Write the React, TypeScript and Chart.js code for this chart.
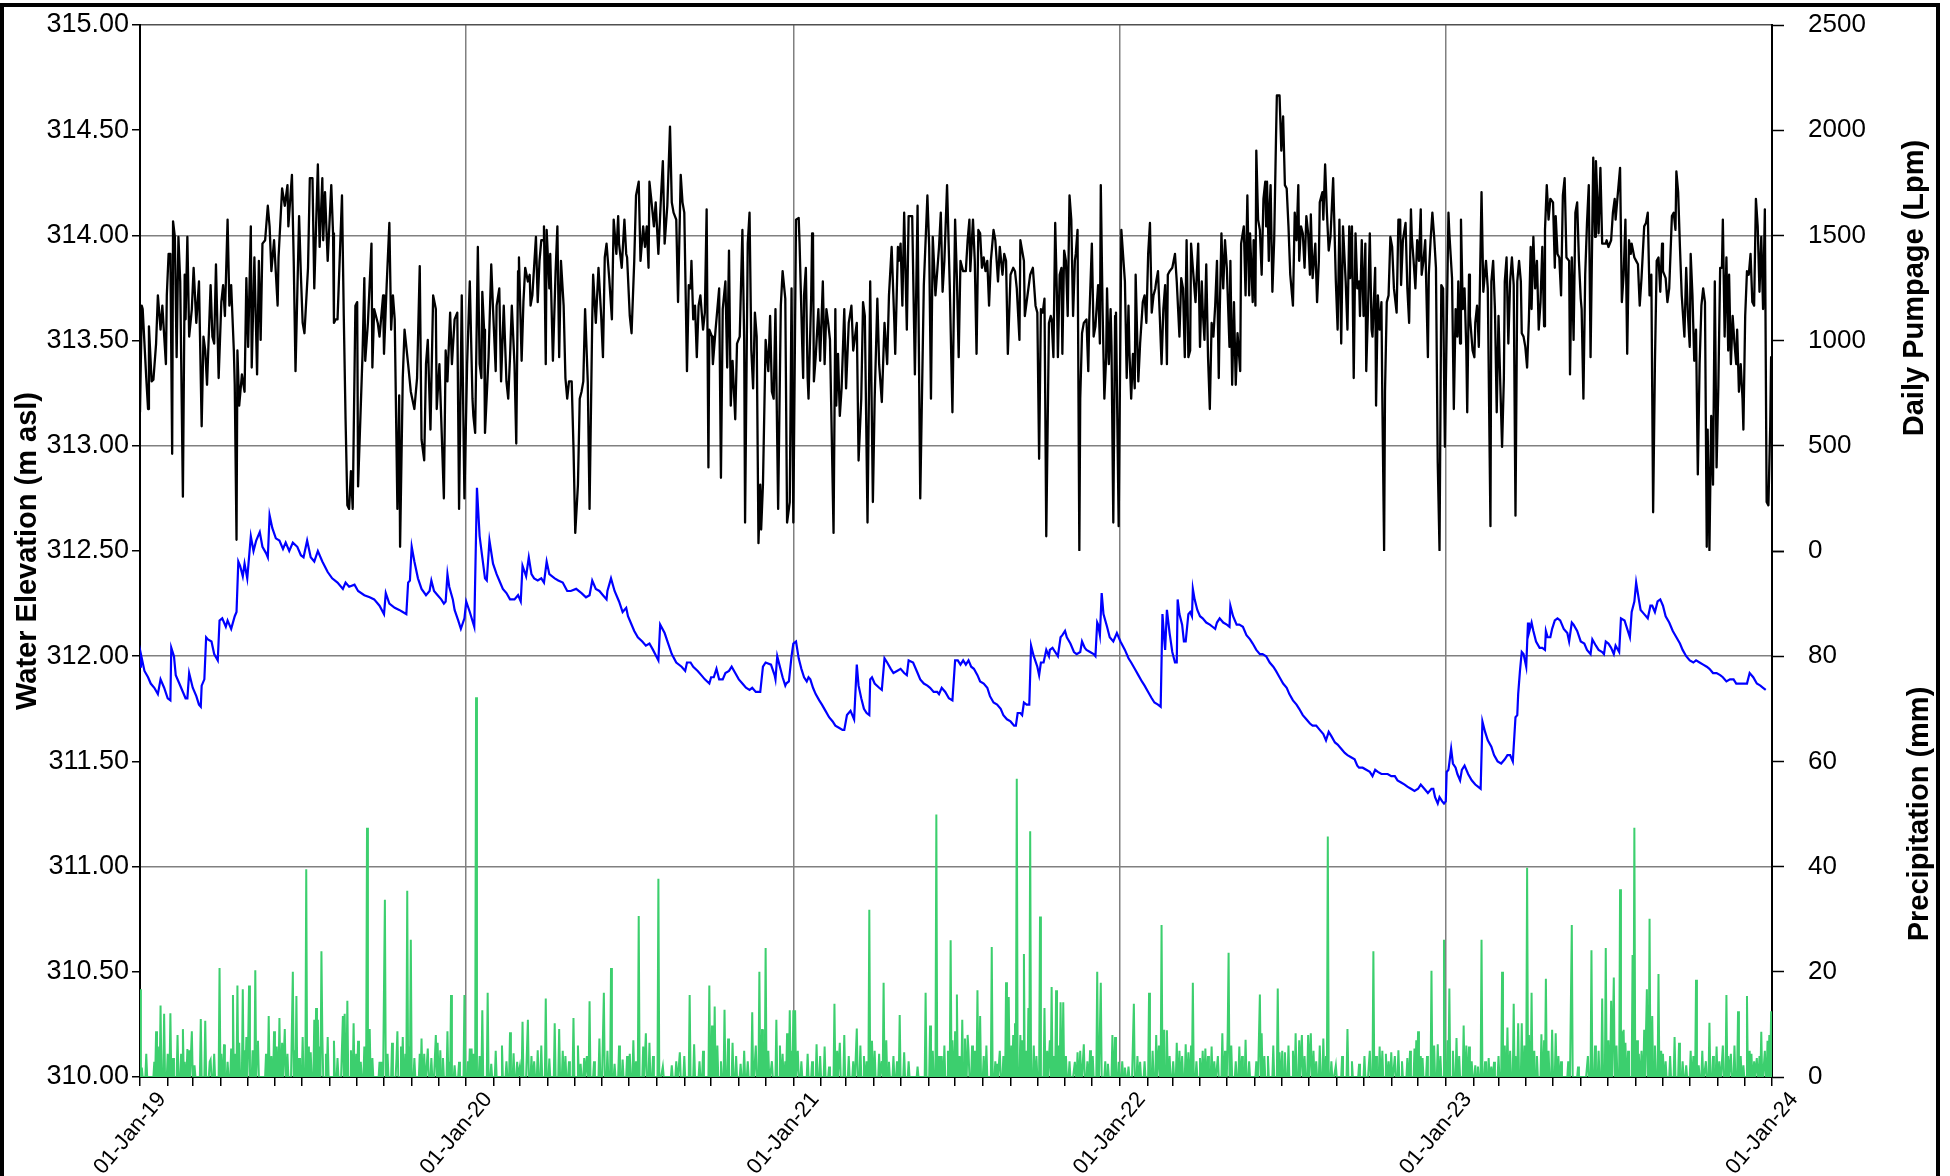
import React, { useEffect, useRef } from 'react';
import { Chart, registerables } from 'chart.js';

Chart.register(...registerables);

const FONT = "'Liberation Sans', Arial, sans-serif";

// x axis: days since 01-Jan-2019
const YEAR_TICK_DAYS = [0, 365, 731, 1096, 1461, 1826];
const YEAR_TICK_LABELS = ['01-Jan-19', '01-Jan-20', '01-Jan-21', '01-Jan-22', '01-Jan-23', '01-Jan-24'];

// Daily pumpage (Lpm) [day, value]
const pump2019: [number, number][] = [[0,659],[2,1166],[3,1150],[7,822],[9,675],[10,1068],[13,806],[15,814],[18,986],[20,1215],[23,1052],[25,1166],[29,888],[30,1215],[32,1412],[34,1412],[36,462],[37,1567],[39,1493],[41,921],[43,1493],[45,1281],[48,258],[50,1313],[51,1101],[53,1493],[55,1019],[58,1150],[60,1346],[63,1084],[66,1281],[69,593],[71,1019],[73,953],[75,790],[79,1264],[81,1019],[83,986],[85,1362],[88,822],[91,1183],[93,1264],[95,1117],[98,1575],[100,1166],[102,1264],[105,953],[106,790],[108,53],[109,953],[111,691],[114,839],[117,757],[119,1297],[121,970],[124,1543],[125,872],[128,1395],[131,839],[133,1379],[135,1003],[137,1461],[140,1477],[143,1641],[145,1543],[147,1330],[150,1477],[154,1166],[155,1395],[159,1723],[162,1641],[165,1739],[166,1543],[170,1788],[172,1379],[174,855],[178,1592],[180,1313],[182,1084],[184,1035],[188,1346],[190,1772],[193,1772],[195,1248],[197,1543],[199,1837],[201,1445],[204,1772],[205,1477],[207,1706],[210,1379],[214,1739],[216,1510],[217,1084],[219,1101],[221,1101],[226,1690],[228,1117],[230,626],[232,217],[234,200],[236,380],[238,200],[241,1166],[243,1183],[244,307],[249,937],[251,1297],[252,904],[255,1084],[259,1461],[260,872],[262,1150],[266,1084],[268,1019],[272,1215],[273,937],[276,1264],[279,1559],[281,1052],[283,1215],[285,1101],[288,200],[290,740],[291,20],[294,822],[296,1052],[300,888],[303,757],[307,675],[310,822],[313,1354],[315,530],[318,431],[320,888],[322,1003],[325,577],[328,1215],[331,1150],[332,675],[335,888],[340,250],[342,953],[344,806],[347,1133],[349,888],[352,1101],[355,1133],[357,200],[360,1215],[363,250]];
const pump2020: [number, number][] = [[366,888],[369,1281],[372,724],[373,642],[375,561],[378,1445],[380,888],[382,822],[383,1232],[385,1052],[386,561],[390,921],[393,1362],[395,1150],[398,855],[399,1166],[402,1248],[404,806],[407,1166],[410,806],[412,724],[414,921],[416,1166],[419,888],[421,511],[423,1330],[424,1395],[427,904],[429,1183],[431,1346],[434,1281],[436,1313],[437,1166],[439,1215],[443,1493],[445,1183],[447,1379],[449,1477],[451,1477],[452,1543],[454,888],[455,1526],[458,1248],[459,1412],[462,904],[465,1330],[467,1543],[469,921],[471,1379],[474,1166],[476,822],[478,724],[480,806],[483,806],[485,495],[487,86],[490,315],[492,724],[494,757],[496,806],[498,1150],[501,806],[503,200],[506,1101],[507,1313],[510,1084],[513,1346],[516,1117],[518,921],[520,1395],[522,1461],[525,1297],[528,1101],[530,1575],[533,1412],[535,1592],[536,1461],[539,1346],[542,1575],[544,1412],[545,1395],[548,1117],[550,1035],[553,1379],[555,1690],[558,1755],[560,1379],[563,1543],[565,1445],[567,1543],[569,1346],[570,1755],[572,1674],[575,1543],[577,1657],[580,1412],[583,1690],[585,1853],[587,1461],[590,1641],[593,2017],[595,1657],[597,1608],[600,1575],[602,1183],[605,1788],[607,1657],[609,1608],[612,855],[614,1264],[616,1248],[617,1379],[619,1101],[621,1166],[623,921],[625,1166],[627,1215],[630,1052],[632,1133],[634,1624],[636,397],[637,1052],[640,1019],[641,888],[644,1052],[648,1248],[650,348],[652,1150],[655,1281],[657,872],[659,1428],[661,691],[663,904],[666,626],[668,986],[671,1019],[674,1526],[676,1003],[677,135],[680,1461],[682,1608],[684,953],[686,773],[688,1133],[690,1019],[692,37],[694,315],[695,102],[697,315],[700,1003],[703,855],[705,1117],[707,757],[709,724],[711,1150],[714,200],[717,1166],[719,1330],[722,1199],[724,135],[727,233],[729,1248],[731,135]];
const pump2021: [number, number][] = [[734,1575],[737,1583],[738,1461],[741,970],[742,822],[743,1215],[745,1346],[747,822],[748,724],[751,1215],[752,1510],[753,1477],[754,806],[756,921],[759,1150],[761,904],[764,1281],[766,888],[768,1150],[770,1084],[772,1003],[776,86],[778,1150],[779,691],[781,937],[783,642],[785,773],[788,1150],[790,773],[793,1084],[796,1166],[798,953],[802,1084],[804,430],[807,724],[809,1183],[811,1117],[814,135],[817,1281],[820,233],[822,724],[825,1199],[827,888],[830,708],[833,1084],[836,888],[838,1215],[841,1445],[844,1084],[845,937],[848,1445],[849,1379],[851,1461],[853,1166],[855,1608],[858,1052],[860,1592],[864,1592],[867,839],[870,1641],[873,250],[877,1264],[881,1690],[883,1445],[885,724],[887,1493],[890,1215],[894,1445],[896,1608],[898,1232],[900,1379],[903,1739],[906,1264],[909,659],[912,1575],[914,1297],[916,921],[918,1379],[921,1330],[924,1330],[926,1477],[928,1575],[929,1330],[932,1575],[934,1379],[936,937],[938,1526],[940,1510],[942,1346],[944,1395],[946,1330],[948,1379],[950,1166],[952,1379],[955,1526],[957,1477],[960,1281],[962,1445],[965,1313],[967,1412],[969,1379],[971,937],[974,1313],[977,1346],[979,1330],[981,1248],[984,1003],[985,1477],[989,1379],[990,1117],[992,1183],[996,1313],[999,1346],[1002,1166],[1004,1133],[1006,438],[1008,1150],[1010,1133],[1012,1199],[1014,70],[1017,1084],[1019,1117],[1020,1101],[1022,921],[1024,1559],[1026,1199],[1027,921],[1029,1313],[1031,1346],[1032,937],[1034,1428],[1036,1379],[1038,1117],[1040,1690],[1042,1575],[1044,1117],[1046,1379],[1047,1412],[1049,1526],[1051,4],[1052,724],[1054,1035],[1056,1084],[1059,1101],[1061,855],[1062,1084],[1065,1461],[1067,1019],[1069,1068],[1072,1264],[1074,986],[1075,1739],[1077,1150],[1079,724],[1081,921],[1082,1248],[1084,888],[1086,1150],[1087,970],[1089,135],[1091,1117],[1092,1133],[1095,118]];
const pump2022: [number, number][] = [[1098,1526],[1102,1281],[1104,822],[1106,1166],[1107,953],[1109,724],[1111,937],[1113,773],[1114,1313],[1117,806],[1119,986],[1122,1183],[1124,1215],[1126,1084],[1128,1412],[1130,1559],[1132,1133],[1134,1215],[1136,1248],[1137,1281],[1139,1330],[1141,1117],[1143,888],[1145,1150],[1147,1264],[1149,888],[1150,1313],[1152,1330],[1155,1346],[1158,1412],[1160,1281],[1163,1019],[1165,1297],[1167,1248],[1169,921],[1171,1477],[1173,921],[1175,953],[1176,1461],[1178,1346],[1181,1183],[1184,1461],[1186,970],[1188,1281],[1189,1150],[1191,1003],[1193,1362],[1195,921],[1197,675],[1199,1084],[1201,1019],[1203,1166],[1205,1379],[1207,822],[1208,1117],[1210,1510],[1212,1248],[1214,1477],[1216,1346],[1219,970],[1220,1379],[1222,790],[1224,1183],[1226,790],[1228,1035],[1231,855],[1232,1461],[1235,1543],[1237,1215],[1239,1690],[1241,1215],[1242,1510],[1245,1183],[1246,1477],[1248,1166],[1249,1903],[1251,1575],[1253,1526],[1255,1313],[1257,1674],[1259,1755],[1260,1543],[1261,1755],[1263,1379],[1264,1641],[1265,1739],[1267,1232],[1269,1477],[1271,1952],[1272,2165],[1275,2165],[1277,1903],[1279,2066],[1281,1739],[1283,1723],[1285,1543],[1287,1313],[1289,1215],[1290,1166],[1292,1608],[1294,1477],[1296,1739],[1297,1379],[1299,1543],[1301,1510],[1303,1346],[1305,1592],[1307,1510],[1309,1313],[1310,1600],[1312,1297],[1315,1461],[1317,1183],[1319,1379],[1320,1657],[1323,1706],[1324,1575],[1326,1837],[1328,1608],[1330,1428],[1332,1493],[1335,1772],[1336,1608],[1338,1281],[1340,1052],[1342,1575],[1344,986],[1346,1543],[1349,1281],[1351,1052],[1353,1543],[1354,1297],[1356,1543],[1358,822],[1360,1510],[1362,1248],[1364,1281],[1365,1117],[1367,1477],[1369,1117],[1371,1461],[1372,855],[1374,1150],[1376,1510],[1378,1052],[1379,1019],[1382,1346],[1383,691],[1385,1215],[1387,1052],[1389,1183],[1390,724],[1392,4],[1393,757],[1395,1183],[1397,1215],[1399,1493],[1401,1445],[1403,1248],[1406,1133],[1408,1575],[1410,1575],[1411,1264],[1413,1477],[1416,1559],[1418,1248],[1420,1084],[1422,1624],[1423,1493],[1425,1379],[1427,1248],[1429,1477],[1431,1379],[1433,1624],[1434,1313],[1436,1379],[1438,1477],[1441,921],[1442,1313],[1444,1477],[1446,1608],[1448,1493],[1450,1346],[1452,421],[1454,4],[1456,1264],[1458,1248],[1460,495]];
const pump2023: [number, number][] = [[1464,1608],[1465,1510],[1468,1297],[1470,675],[1472,1150],[1474,1019],[1475,1281],[1477,986],[1478,1575],[1480,1150],[1482,1248],[1484,953],[1485,659],[1487,1313],[1488,1117],[1491,953],[1493,921],[1494,1084],[1496,1166],[1498,970],[1501,1706],[1503,1232],[1506,1379],[1508,1248],[1511,118],[1512,1281],[1514,1379],[1516,1150],[1518,659],[1520,1117],[1522,790],[1524,495],[1526,822],[1527,1281],[1529,1395],[1531,986],[1533,1281],[1535,1395],[1537,1264],[1539,168],[1541,1281],[1543,1379],[1545,1281],[1546,1035],[1548,1019],[1550,970],[1552,872],[1554,1101],[1556,1445],[1557,1150],[1559,1493],[1561,1248],[1563,1379],[1565,1052],[1567,1183],[1569,1445],[1571,1068],[1572,1526],[1574,1739],[1576,1575],[1578,1674],[1581,1657],[1583,1346],[1584,1592],[1586,1412],[1588,1395],[1590,1215],[1592,1690],[1594,1772],[1596,1395],[1599,1379],[1600,839],[1602,1395],[1604,1003],[1606,1608],[1608,1657],[1610,1379],[1612,1199],[1613,1150],[1615,724],[1617,1313],[1619,1559],[1621,1739],[1623,921],[1626,1870],[1628,1493],[1629,1853],[1632,1510],[1634,1821],[1636,1461],[1638,1461],[1640,1461],[1641,1477],[1643,1445],[1646,1477],[1648,1608],[1650,1674],[1651,1575],[1653,1674],[1656,1821],[1658,1183],[1660,1313],[1662,1575],[1664,937],[1666,1477],[1668,1412],[1669,1461],[1672,1395],[1674,1379],[1676,1363],[1678,1166],[1680,1297],[1683,1543],[1685,1559],[1687,1608],[1689,1215],[1691,1313],[1693,184],[1695,888],[1697,1379],[1699,1395],[1701,1232],[1703,1461],[1704,1330],[1707,1297],[1709,1183],[1711,1248],[1714,1592],[1716,1608],[1718,1526],[1719,1804],[1721,1706],[1723,1445],[1725,1215],[1728,1019],[1730,1346],[1732,1117],[1734,970],[1735,1412],[1737,1215],[1739,904],[1741,1052],[1743,364],[1745,888],[1747,1166],[1749,1248],[1751,1183],[1753,20],[1754,577],[1756,4],[1758,642],[1760,315],[1762,1281],[1764,397],[1766,790],[1768,1346],[1770,1346],[1771,1575],[1773,1019],[1775,1395],[1777,953],[1778,1313],[1780,888],[1782,1117],[1784,986],[1786,888],[1787,1052],[1789,757],[1791,888],[1793,724],[1794,577],[1796,1117],[1798,1330],[1800,1313],[1802,1412],[1804,1183],[1806,1166],[1808,1674],[1810,1543],[1812,1232],[1814,1493],[1816,1150],[1818,1624],[1820,233],[1822,217],[1824,593],[1825,921],[1826,561]];

// Water elevation (m asl) [day, value]
const elev2019: [number, number][] = [[0,311.95],[1,312.01],[5,311.93],[9,311.90],[12,311.87],[16,311.85],[20,311.82],[23,311.89],[27,311.85],[31,311.80],[34,311.79],[35,312.04],[38,312.00],[40,311.91],[44,311.87],[48,311.83],[51,311.80],[53,311.80],[55,311.92],[59,311.85],[63,311.81],[66,311.77],[68,311.76],[69,311.86],[72,311.89],[74,312.09],[76,312.08],[80,312.07],[83,312.01],[87,311.98],[89,312.17],[92,312.18],[96,312.14],[98,312.17],[102,312.13],[106,312.19],[108,312.21],[110,312.45],[112,312.43],[115,312.38],[117,312.44],[120,312.37],[122,312.47],[124,312.57],[127,312.50],[130,312.55],[134,312.59],[137,312.52],[141,312.49],[143,312.47],[145,312.67],[148,312.61],[152,312.56],[156,312.55],[160,312.51],[163,312.54],[167,312.50],[171,312.54],[176,312.52],[180,312.48],[183,312.47],[187,312.55],[191,312.47],[195,312.45],[199,312.50],[204,312.45],[210,312.40],[215,312.37],[221,312.35],[227,312.32],[230,312.35],[234,312.33],[240,312.34],[244,312.31],[251,312.29],[257,312.28],[262,312.27],[268,312.24],[273,312.20],[275,312.30],[279,312.25],[285,312.23],[290,312.22],[294,312.21],[298,312.20],[300,312.35],[302,312.36],[304,312.52],[307,312.45],[311,312.37],[315,312.32],[320,312.29],[324,312.31],[326,312.36],[329,312.31],[333,312.29],[337,312.27],[340,312.25],[342,312.26],[344,312.39],[346,312.33],[350,312.27],[352,312.22],[356,312.17],[359,312.13],[363,312.18]];
const elev2020: [number, number][] = [[365,312.26],[369,312.21],[374,312.14],[377,312.80],[380,312.57],[383,312.47],[386,312.37],[388,312.36],[391,312.55],[395,312.44],[399,312.39],[402,312.36],[406,312.32],[410,312.30],[414,312.27],[419,312.27],[423,312.29],[426,312.26],[428,312.43],[432,312.38],[435,312.47],[438,312.39],[441,312.37],[445,312.36],[449,312.37],[452,312.35],[455,312.45],[458,312.39],[464,312.37],[468,312.36],[473,312.35],[478,312.31],[482,312.31],[488,312.32],[494,312.30],[499,312.28],[503,312.29],[506,312.36],[510,312.32],[514,312.31],[518,312.29],[522,312.27],[523,312.31],[527,312.37],[531,312.31],[536,312.26],[540,312.21],[544,312.23],[546,312.19],[549,312.16],[553,312.12],[557,312.09],[562,312.07],[566,312.05],[570,312.06],[574,312.03],[580,311.98],[582,312.15],[587,312.11],[591,312.06],[595,312.01],[600,311.97],[606,311.95],[610,311.93],[612,311.97],[616,311.97],[619,311.95],[624,311.93],[628,311.91],[632,311.89],[637,311.87],[639,311.90],[642,311.90],[645,311.94],[648,311.89],[652,311.89],[655,311.92],[659,311.93],[662,311.95],[666,311.92],[670,311.89],[674,311.87],[678,311.85],[682,311.84],[685,311.85],[689,311.83],[694,311.83],[697,311.95],[700,311.97],[706,311.96],[710,311.91],[711,311.89],[713,312.00],[716,311.95],[719,311.90],[722,311.86],[723,311.87],[726,311.88],[729,312.00]];
const elev2021: [number, number][] = [[731,312.06],[734,312.07],[737,311.99],[740,311.94],[743,311.90],[746,311.88],[748,311.90],[750,311.89],[753,311.85],[756,311.82],[760,311.79],[763,311.77],[767,311.74],[771,311.71],[775,311.69],[778,311.67],[782,311.66],[786,311.65],[788,311.65],[791,311.72],[795,311.74],[799,311.70],[802,311.96],[804,311.86],[807,311.80],[810,311.75],[813,311.73],[816,311.72],[817,311.89],[819,311.90],[822,311.87],[827,311.85],[830,311.84],[833,311.99],[836,311.97],[840,311.94],[843,311.92],[847,311.93],[851,311.94],[855,311.92],[858,311.91],[860,311.98],[865,311.97],[870,311.92],[873,311.89],[877,311.87],[881,311.86],[884,311.85],[888,311.83],[892,311.83],[894,311.82],[897,311.85],[901,311.83],[905,311.80],[909,311.79],[912,311.98],[915,311.98],[918,311.96],[921,311.98],[924,311.96],[927,311.98],[930,311.95],[933,311.94],[937,311.91],[940,311.88],[944,311.87],[948,311.85],[951,311.81],[955,311.78],[959,311.77],[963,311.75],[966,311.72],[970,311.70],[974,311.69],[978,311.67],[980,311.67],[982,311.73],[985,311.73],[987,311.72],[989,311.78],[992,311.77],[995,311.77],[997,312.05],[1000,312.00],[1004,311.95],[1006,311.91],[1008,311.97],[1011,311.97],[1014,312.03],[1017,312.00],[1018,312.03],[1021,312.04],[1024,312.02],[1027,312.00],[1030,312.09],[1032,312.10],[1035,312.12],[1037,312.09],[1041,312.06],[1045,312.02],[1048,312.01],[1052,312.02],[1054,312.07],[1057,312.04],[1059,312.03],[1063,312.02],[1067,312.01],[1069,312.00],[1071,312.16],[1072,312.15],[1074,312.10],[1076,312.30],[1078,312.20],[1082,312.14],[1085,312.09],[1089,312.07],[1093,312.11],[1097,312.07]];
const elev2022: [number, number][] = [[1102,312.03],[1106,311.99],[1109,311.97],[1113,311.94],[1117,311.91],[1121,311.88],[1124,311.86],[1128,311.83],[1132,311.80],[1135,311.78],[1139,311.77],[1142,311.76],[1144,312.20],[1146,312.08],[1147,312.03],[1149,312.22],[1152,312.11],[1155,312.02],[1158,311.97],[1160,311.97],[1161,312.27],[1163,312.20],[1166,312.15],[1168,312.07],[1170,312.07],[1173,312.20],[1175,312.21],[1177,312.19],[1178,312.32],[1180,312.27],[1183,312.22],[1186,312.19],[1189,312.18],[1193,312.16],[1197,312.15],[1200,312.14],[1203,312.13],[1205,312.16],[1208,312.18],[1212,312.16],[1216,312.15],[1219,312.14],[1220,312.24],[1223,312.19],[1227,312.15],[1230,312.15],[1234,312.14],[1238,312.10],[1242,312.08],[1245,312.06],[1249,312.03],[1253,312.01],[1256,312.01],[1260,312.00],[1264,311.97],[1268,311.95],[1271,311.93],[1275,311.90],[1279,311.87],[1283,311.85],[1286,311.82],[1290,311.79],[1294,311.77],[1297,311.75],[1301,311.72],[1305,311.70],[1309,311.68],[1312,311.67],[1316,311.67],[1320,311.65],[1324,311.63],[1327,311.60],[1330,311.64],[1333,311.62],[1337,311.59],[1340,311.58],[1344,311.56],[1348,311.54],[1351,311.53],[1355,311.52],[1359,311.51],[1362,311.48],[1364,311.47],[1368,311.47],[1372,311.46],[1376,311.45],[1379,311.43],[1382,311.46],[1385,311.45],[1389,311.44],[1392,311.44],[1396,311.44],[1400,311.43],[1404,311.43],[1407,311.41],[1411,311.40],[1415,311.39],[1418,311.38],[1422,311.37],[1426,311.36],[1430,311.37],[1433,311.39],[1437,311.37],[1441,311.35],[1445,311.37],[1447,311.37],[1449,311.33],[1452,311.30],[1454,311.33],[1457,311.31],[1459,311.30]];
const elev2023: [number, number][] = [[1461,311.31],[1462,311.45],[1464,311.46],[1467,311.56],[1469,311.49],[1472,311.47],[1474,311.44],[1477,311.41],[1479,311.46],[1482,311.48],[1486,311.44],[1490,311.41],[1494,311.39],[1497,311.38],[1500,311.37],[1502,311.69],[1505,311.64],[1508,311.60],[1512,311.57],[1515,311.53],[1519,311.50],[1523,311.49],[1527,311.51],[1530,311.53],[1533,311.53],[1536,311.50],[1539,311.71],[1541,311.72],[1542,311.82],[1544,311.93],[1546,312.02],[1548,312.01],[1551,311.95],[1553,312.16],[1554,312.11],[1557,312.16],[1559,312.12],[1562,312.07],[1566,312.04],[1569,312.04],[1572,312.03],[1573,312.12],[1575,312.09],[1578,312.09],[1580,312.13],[1583,312.17],[1586,312.18],[1589,312.17],[1593,312.13],[1597,312.11],[1599,312.07],[1602,312.16],[1604,312.15],[1608,312.12],[1612,312.07],[1616,312.06],[1619,312.03],[1623,312.01],[1625,312.08],[1629,312.05],[1632,312.03],[1636,312.02],[1638,312.01],[1640,312.07],[1643,312.06],[1646,312.04],[1649,312.01],[1651,312.05],[1655,312.02],[1657,312.18],[1661,312.17],[1664,312.13],[1667,312.09],[1669,312.21],[1672,312.26],[1674,312.35],[1677,312.27],[1679,312.22],[1683,312.20],[1687,312.18],[1690,312.24],[1692,312.24],[1695,312.21],[1698,312.26],[1701,312.27],[1704,312.24],[1707,312.19],[1711,312.16],[1715,312.12],[1719,312.09],[1723,312.06],[1726,312.03],[1730,312.00],[1734,311.98],[1738,311.97],[1741,311.98],[1745,311.97],[1749,311.96],[1753,311.95],[1756,311.94],[1760,311.92],[1764,311.92],[1768,311.91],[1771,311.90],[1775,311.88],[1779,311.89],[1783,311.89],[1786,311.87],[1790,311.87],[1794,311.87],[1798,311.87],[1801,311.92],[1805,311.90],[1809,311.87],[1813,311.86],[1816,311.85],[1819,311.84]];

// Precipitation (mm) on rain days [day, mm]; all other days 0
const rain2019: [number, number][] = [[0,16.7],[2,1.8],[7,4.4],[16,2.9],[18,8.7],[20,5.8],[23,13.6],[27,12],[31,4.4],[34,12.1],[37,3.6],[42,8],[46,4.4],[48,9.1],[50,2.9],[53,5.3],[55,5.1],[58,8.7],[61,2.2],[68,11],[73,10.7],[78,2.9],[79,3.3],[83,4.4],[89,20.7],[91,4.4],[94,6.2],[98,2.9],[102,5.4],[104,15.6],[106,4.4],[109,17.4],[111,6.5],[115,16.7],[117,5.1],[119,7.6],[121,6.5],[122,17.4],[126,5.1],[129,20.3],[131,5.8],[132,6.9],[141,4.4],[144,11.6],[147,4],[150,8.7],[153,5.8],[156,11.2],[159,6.5],[162,9.1],[165,4.4],[171,20],[173,5.1],[175,15.4],[178,3.6],[182,7.6],[186,39.5],[188,5.8],[191,4.7],[195,10.9],[197,13.1],[199,10.9],[201,5.8],[203,23.9],[204,8],[208,4.4],[210,7.6],[217,6.9],[221,3.6],[227,11.6],[229,12],[232,14.5],[236,5.1],[239,10.2],[242,4.4],[244,6.9],[247,2.9],[251,5.8],[254,47.4],[257,9.1],[260,3.6],[268,2.9],[270,2.9],[274,33.7],[277,4.4],[282,6.5],[287,3.6],[288,8.7],[292,5.8],[294,7.6],[297,4.4],[299,35.4],[301,5.8],[303,26.1],[307,3.6],[313,4.4],[315,7.3],[318,4.4],[322,5.4],[326,3.6],[331,8],[333,6.5],[336,5.1],[339,3.6],[344,8.7],[346,2.9],[348,15.6],[352,2.2],[357,2.9],[363,15.6]];
const rain2020: [number, number][] = [[367,3],[369,5.4],[371,5.4],[373,4.4],[376,72.2],[380,4],[383,12.7],[389,16],[393,2.5],[398,5],[405,6],[410,3],[414,8.5],[418,4.5],[422,2.9],[425,2],[428,10.5],[434,10.9],[438,4],[441,3],[445,5.1],[449,6],[454,14.9],[458,3.5],[464,10.2],[469,9.1],[473,5],[476,4],[480,3],[485,11.2],[490,6],[493,2.5],[497,3.6],[500,4],[503,14.4],[508,3],[514,7.3],[519,16],[523,5],[527,20.7],[531,2.5],[536,6],[540,3.3],[545,4],[548,4.4],[552,7],[555,3],[558,30.6],[563,5.8],[566,8.3],[570,6.5],[574,4],[580,37.7],[585,2],[595,2.2],[600,3],[604,4.7],[609,4],[615,15.6],[620,6.2],[626,3],[630,5],[637,17.4],[640,9.8],[643,13.4],[646,6],[650,3],[654,12.8],[658,7.3],[663,6.5],[667,4],[672,2.5],[676,5],[680,3],[685,12.3],[689,6],[693,20],[696,9.1],[700,24.5],[703,5],[707,3],[712,10.9],[716,6],[719,4.4],[722,3],[724,8.3],[727,12.7],[729,5]];
const rain2021: [number, number][] = [[731,12.7],[733,12.7],[736,5],[740,3],[747,4.4],[752,3],[757,6.2],[761,4],[766,5.8],[771,2],[777,13.9],[780,5],[783,6.5],[788,8],[793,4],[798,3],[802,9.2],[806,6],[810,4],[813,3],[816,31.8],[819,6.9],[822,5],[827,4.4],[830,3],[832,17.9],[835,7],[838,2.9],[843,4],[847,3],[850,11.8],[855,4.7],[860,3],[870,2],[879,16],[884,9.8],[887,5],[891,49.9],[894,4],[897,4],[900,6],[904,5],[907,26],[909,7],[912,8.7],[914,15.7],[917,4],[920,10.9],[923,7.3],[926,8],[927,5.1],[931,6],[934,5],[937,16.5],[940,11.6],[944,4],[947,6],[953,24.7],[957,3],[959,2.5],[962,5],[966,4],[969,18],[972,15.2],[975,6],[977,8],[979,10.2],[981,56.7],[985,8],[987,7],[989,23.4],[992,5],[994,13.1],[996,46.7],[1000,6],[1003,4],[1007,30.5],[1012,13.1],[1015,5],[1018,7],[1020,17.1],[1023,4],[1025,16.5],[1028,6],[1030,14.2],[1033,14.2],[1036,4],[1040,3],[1046,2.9],[1049,4.7],[1052,5],[1056,6.2],[1060,3],[1063,5.1],[1066,4],[1071,20],[1075,17.9],[1080,3],[1083,2.5],[1088,8],[1091,7.6],[1095,2.9]];
const rain2022: [number, number][] = [[1099,3],[1102,1.8],[1106,2],[1112,13.9],[1116,4],[1119,2.9],[1124,3],[1129,16],[1133,5],[1137,8],[1140,6],[1143,28.9],[1146,9],[1149,8.9],[1152,4],[1156,3],[1160,6.5],[1163,5],[1166,4],[1170,6.2],[1173,4.7],[1176,6],[1178,17.9],[1182,3],[1186,3.6],[1189,5],[1192,5.4],[1195,4],[1199,5.8],[1202,3],[1206,4],[1211,8.3],[1214,5],[1217,8.3],[1218,23.6],[1221,6],[1226,3],[1230,5.8],[1233,4],[1237,7.1],[1241,3],[1249,3],[1253,15.7],[1255,8.3],[1258,4],[1262,4],[1268,6],[1273,16.8],[1275,4.7],[1278,5],[1281,4.7],[1285,6],[1290,5],[1293,8.3],[1297,7],[1300,8],[1303,4],[1307,8],[1310,8.3],[1313,5],[1316,3],[1320,6],[1324,7.3],[1327,4],[1329,45.7],[1333,3],[1338,2.2],[1345,4],[1351,9.1],[1356,3],[1364,2.5],[1370,4],[1376,5],[1380,23.9],[1383,4],[1387,5.8],[1390,5],[1394,4.4],[1397,3],[1400,4.7],[1404,4],[1408,5.1],[1412,3],[1418,3.6],[1421,5],[1426,5.4],[1428,7],[1430,8.7],[1433,4],[1435,3.6],[1440,4],[1445,20.2],[1448,6],[1452,6.2],[1455,4],[1459,26.1]];
const rain2023: [number, number][] = [[1463,7],[1465,16.8],[1469,5],[1473,7.4],[1476,4],[1481,9.8],[1484,6],[1487,5.8],[1490,3],[1494,2.2],[1497,2],[1501,26.1],[1505,3],[1509,3.6],[1512,2],[1515,2.9],[1520,4],[1524,20],[1527,6],[1530,9.4],[1533,5],[1537,13.9],[1539,4],[1542,10.2],[1546,10.2],[1549,6],[1552,39.8],[1554,8],[1557,16],[1560,5],[1563,4],[1568,8.1],[1571,7],[1573,18.7],[1576,5],[1580,9],[1584,8.3],[1587,4],[1590,3],[1598,3],[1602,28.9],[1609,2],[1620,4],[1624,24.1],[1628,6],[1632,5],[1636,14.9],[1640,24.5],[1643,7],[1646,14.5],[1649,18.9],[1652,6],[1656,35.7],[1658,8.7],[1660,9],[1662,6.5],[1665,5],[1670,23.2],[1672,47.4],[1675,7],[1677,4.4],[1680,5],[1683,9],[1686,16.7],[1689,30.1],[1692,11.6],[1695,6],[1699,19.6],[1702,5],[1704,4.4],[1707,3],[1712,4],[1717,7.6],[1722,6.5],[1726,3],[1730,2.2],[1735,5],[1738,4],[1741,18.5],[1744,2.2],[1748,5],[1752,3],[1756,10.3],[1760,4],[1764,5.8],[1767,3],[1771,6],[1775,15.6],[1777,4],[1780,4.4],[1784,6],[1788,12.5],[1791,4],[1794,2.2],[1798,15.4],[1801,5],[1803,4.4],[1806,3],[1809,3.6],[1812,4],[1814,8.6],[1818,5],[1821,6.9],[1823,8],[1825,12.5]];

const toXY = (arr: [number, number][]) => arr.map(([x, y]) => ({ x, y }));

export default function App() {
  const ref = useRef<HTMLCanvasElement | null>(null);

  useEffect(() => {
    document.body.style.margin = '0';
    const canvas = ref.current;
    if (!canvas) return;

    // month-start tick positions (days since 01-Jan-2019)
    const monthTicks: number[] = [];
    const t0 = Date.UTC(2019, 0, 1);
    for (let y = 2019; y <= 2023; y++) {
      for (let m = 0; m < 12; m++) monthTicks.push(Math.round((Date.UTC(y, m, 1) - t0) / 86400000));
    }
    monthTicks.push(1826);

    const rainMap = new Map<number, number>();
    [rain2019, rain2020, rain2021, rain2022, rain2023].forEach((a) => a.forEach(([d, v]) => rainMap.set(d, v)));
    const rainSeries: { x: number; y: number }[] = [];
    for (let d = 0; d <= 1826; d++) rainSeries.push({ x: d, y: rainMap.get(d) ?? 0 });

    const yearLabel = (v: number) => {
      const i = YEAR_TICK_DAYS.indexOf(v);
      return i >= 0 ? YEAR_TICK_LABELS[i] : '';
    };

    const decorPlugin = {
      id: 'decor',
      beforeDraw(chart: any) {
        const c = chart.ctx;
        c.save();
        c.fillStyle = '#ffffff';
        c.fillRect(0, 0, chart.width, chart.height);
        c.restore();
      },
      afterDraw(chart: any) {
        const c = chart.ctx;
        const a = chart.chartArea;
        c.save();
        c.fillStyle = '#000';
        c.font = `bold 29px ${FONT}`;
        c.textAlign = 'center';
        c.textBaseline = 'middle';
        const drawV = (text: string, x: number, y: number) => {
          c.save();
          c.translate(x, y);
          c.rotate(-Math.PI / 2);
          c.fillText(text, 0, 0);
          c.restore();
        };
        drawV('Water Elevation (m asl)', 28, (a.top + a.bottom) / 2);
        const sP = chart.scales.yP;
        const sR = chart.scales.yR;
        drawV('Daily Pumpage (Lpm)', 1915, (sP.top + sP.bottom) / 2);
        drawV('Precipitation (mm)', 1920, (sR.top + sR.bottom) / 2);
        // outer frame
        c.lineWidth = 4;
        c.strokeStyle = '#000';
        c.strokeRect(2, 5, 1936, 1200);
        c.restore();
      },
    };

    const rightFit = (s: any) => {
      s.width = 178;
      s.paddingTop = 10;
      s.paddingBottom = 10;
    };

    const chart = new Chart(canvas, {
      type: 'line',
      data: {
        datasets: [
          {
            label: 'Daily Pumpage',
            data: toXY([...pump2019, ...pump2020, ...pump2021, ...pump2022, ...pump2023]),
            yAxisID: 'yP',
            borderColor: '#000000',
            borderWidth: 2.3,
            pointRadius: 0,
            tension: 0,
            borderJoinStyle: 'round',
            order: 1,
          },
          {
            label: 'Water Elevation',
            data: toXY([...elev2019, ...elev2020, ...elev2021, ...elev2022, ...elev2023]),
            yAxisID: 'y',
            borderColor: '#0000ff',
            borderWidth: 2.2,
            pointRadius: 0,
            tension: 0,
            order: 2,
          },
          {
            label: 'Precipitation',
            data: rainSeries,
            yAxisID: 'yR',
            borderColor: '#3ccf6e',
            borderWidth: 2,
            pointRadius: 0,
            tension: 0,
            order: 3,
          },
        ],
      },
      options: {
        responsive: false,
        maintainAspectRatio: false,
        animation: false,
        devicePixelRatio: 1,
        events: [],
        layout: { padding: { top: 25, left: 0, right: 0, bottom: 0 } },
        plugins: { legend: { display: false }, tooltip: { enabled: false } },
        scales: {
          x: {
            type: 'linear',
            min: 0,
            max: 1826,
            afterBuildTicks: (s: any) => {
              s.ticks = monthTicks.map((v) => ({ value: v }));
            },
            afterFit: (s: any) => {
              s.height = 99;
            },
            ticks: {
              autoSkip: false,
              minRotation: 50,
              maxRotation: 50,
              padding: 1,
              labelOffset: 22,
              color: '#000',
              font: { family: FONT, size: 22 },
              callback: (v: any) => yearLabel(Number(v)),
            },
            grid: {
              color: (ctx: any) => {
                const v = ctx.tick ? ctx.tick.value : -1;
                return YEAR_TICK_DAYS.includes(v) && v !== 0 && v !== 1826 ? '#808080' : 'rgba(0,0,0,0)';
              },
              lineWidth: 1.5,
              tickColor: '#000',
              tickWidth: 1.5,
              tickLength: 9,
              drawTicks: true,
            },
            border: { display: true, color: '#000', width: 2 },
          },
          y: {
            type: 'linear',
            position: 'left',
            min: 310,
            max: 315,
            afterFit: (s: any) => {
              s.width = 140;
            },
            ticks: {
              stepSize: 0.5,
              padding: 3,
              color: '#000',
              font: { family: FONT, size: 27 },
              callback: (v: any) => Number(v).toFixed(2),
            },
            grid: {
              color: (ctx: any) => {
                const v = ctx.tick ? ctx.tick.value : 0;
                if (v === 315) return '#505050';
                if (v === 310) return 'rgba(0,0,0,0)';
                return Number.isInteger(v) ? '#808080' : 'rgba(0,0,0,0)';
              },
              lineWidth: 1.5,
              tickColor: '#000',
              tickWidth: 1.5,
              tickLength: 8,
            },
            border: { display: true, color: '#000', width: 2 },
          },
          yP: {
            type: 'linear',
            position: 'right',
            stack: 'right',
            stackWeight: 1,
            min: 0,
            max: 2500,
            afterFit: rightFit,
            ticks: {
              stepSize: 500,
              padding: 24,
              color: '#000',
              font: { family: FONT, size: 26 },
              callback: (v: any) => String(v),
            },
            grid: { drawOnChartArea: false, tickColor: '#000', tickWidth: 1.5, tickLength: 12 },
            border: { display: true, color: '#000', width: 2 },
          },
          yR: {
            type: 'linear',
            position: 'right',
            stack: 'right',
            stackWeight: 1,
            min: 0,
            max: 100,
            afterFit: rightFit,
            ticks: {
              stepSize: 10,
              padding: 24,
              color: '#000',
              font: { family: FONT, size: 26 },
              callback: (v: any) => (Number(v) >= 100 ? '' : String(v)),
            },
            grid: { drawOnChartArea: false, tickColor: '#000', tickWidth: 1.5, tickLength: 12 },
            border: { display: true, color: '#000', width: 2 },
          },
        },
      },
      plugins: [decorPlugin],
    } as any);

    return () => chart.destroy();
  }, []);

  return (
    <div style={{ width: 1950, height: 1176, position: 'relative', background: '#fff' }}>
      <canvas ref={ref} width={1950} height={1176} style={{ display: 'block', width: 1950, height: 1176 }} />
    </div>
  );
}
